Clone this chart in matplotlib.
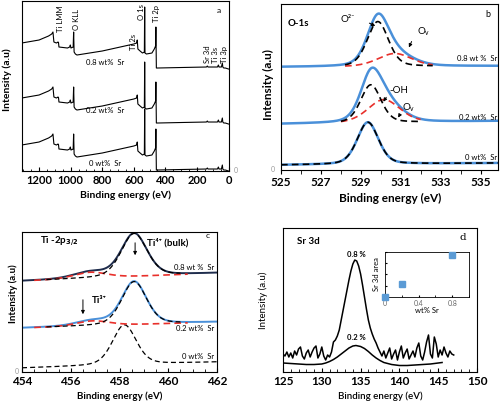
import numpy as np
import matplotlib
matplotlib.use('Agg')
import matplotlib.pyplot as plt
from matplotlib.ticker import MultipleLocator, FixedLocator, NullLocator

plt.rcParams['font.family'] = ['Lato', 'DejaVu Sans']

BLUE = '#4a90d9'
RED = '#e8302b'
NAVY = '#1f2d4d'

# ---- (a) survey spectra: outline of one trace, shifted for each sample ----
survey_be = [1310, 1200, 1140, 1120, 1112, 1106, 1090, 1080, 1077, 1074, 1020, 1006, 1002, 998,
             984, 981, 978, 970, 960, 800, 600, 582, 578, 574, 560, 545, 533, 531, 529, 520,
             485, 470, 462, 460, 457, 450, 300, 140, 134, 130, 70, 64, 60, 45, 39, 36, 30, 20, 0]
survey_int = [128, 131, 135, 137, 139, 129, 128, 129, 128.5, 124, 123, 124, 126, 123,
              124, 139, 119, 117, 116, 120, 127, 128, 131, 122, 120, 118, 119, 164, 118, 117,
              118, 122, 125, 144, 103, 103, 103.5, 104, 105, 104, 104, 106, 104, 104, 108, 104, 103, 103, 102]
survey_offsets = [0, -55, -102]
survey_labels = ['0.8 wt%  Sr', '0.2 wt%  Sr', '0 wt%  Sr']
survey_label_y = [109, 61, 8]
peak_names = ['Ti LMM', 'O KLL', 'Ti 2s', 'O 1s', 'Ti 2p', 'Sr 3d', 'Ti 3s', 'Ti 3p']
peak_name_be = [1065, 965, 603, 548, 457, 133, 83, 25]
peak_name_y = [139, 141, 121, 151, 149, 108, 108, 108]

# ---- (b) O 1s fits: baseline (left, right), O2- and second component (centre, fwhm, height) ----
o1s_labels = ['0 wt%  Sr', '0.2 wt%  Sr', '0.8 wt %  Sr']
o1s_base_left = [5, 46, 103]
o1s_base_right = [7, 49, 104]
o1s_main = [(529.35, 1.25, 42), (529.5, 1.2, 38), (529.85, 1.25, 45)]
o1s_second = [None, (530.15, 1.9, 23), (530.7, 2.0, 13)]
o1s_comp_range = [(525, 536), (528.0, 532.0), (528.2, 532.6)]
o1s_label_y = [13, 53, 112]

# ---- (c) Ti 2p3/2 fits ----
ti_labels = ['0 wt%  Sr', '0.2 wt%  Sr', '0.8 wt %  Sr']
ti_base_left = [4, 44, 91]
ti_base_right = [10, 50, 99]
ti4_peak = [(458.2, 1.15, 40), (458.6, 1.2, 43), (458.6, 1.25, 43)]
ti3_peak = [None, (456.9, 1.6, 5), (456.8, 1.6, 6)]
ti_label_y = [16, 44, 105]

# ---- (d) Sr 3d ----
sr08_be = np.arange(125, 147.01, 0.25)
sr08_int = [18, 16, 20, 15, 19, 14, 21, 17, 23, 25, 16, 13, 19, 22, 15, 20, 24, 26, 14, 18,
            25, 16, 12, 17, 15, 20, 30, 32, 36, 42, 52, 62, 72, 82, 92, 101, 108, 112, 111, 106,
            98, 87, 75, 63, 52, 44, 38, 33, 29, 24, 20, 16, 21, 14, 19, 24, 13, 18, 22, 12,
            20, 26, 14, 19, 23, 13, 17, 21, 15, 24, 29, 16, 12, 20, 30, 37, 18, 14, 35, 28,
            15, 22, 17, 25, 19, 15, 21, 18, 17]
sr02_be = [125, 126, 127, 128, 129, 130, 130.5, 131, 131.5, 132, 132.5, 133, 133.5, 134, 134.4,
           135, 135.5, 136, 136.5, 137, 137.5, 138, 139, 140, 141, 142, 143, 144, 145, 145.5]
sr02_int = [9, 8.5, 8, 7.5, 7.5, 8, 9, 10.5, 12.5, 15, 18, 21, 24, 26, 26.5,
            25.5, 23.5, 20.5, 17, 14, 11.5, 9.5, 7.5, 6.5, 6.5, 7, 7.5, 8, 9, 9.5]
inset_wt = [0, 0.2, 0.8]
inset_area = [0, 0.28, 0.94]
inset_ticks = [0, 0.4, 0.8]
inset_ticklabels = ['0', '0.4', '0.8']


def gl(x, c, fwhm, h, eta=0.3):
    g = np.exp(-4 * np.log(2) * ((x - c) / fwhm) ** 2)
    l = 1 / (1 + 4 * ((x - c) / fwhm) ** 2)
    return h * ((1 - eta) * g + eta * l)


def bold_ticks(ax):
    for t in ax.get_xticklabels():
        t.set_fontweight('bold')


fig = plt.figure(figsize=(5, 4.04), dpi=100)
arrow = dict(arrowstyle='-|>', color='k', lw=0.7, mutation_scale=5)
dash = (0, (4, 2.5))

# ================= panel a =================
ax = fig.add_axes([0.0434, 0.5767, 0.4136, 0.4208])
for off, lab, ly in zip(survey_offsets, survey_labels, survey_label_y):
    ax.plot(survey_be, np.array(survey_int) + off, color='k', lw=0.8)
    ax.text(781, ly, lab, fontsize=5.5, ha='center', va='center')
for name, be, y in zip(peak_names, peak_name_be, peak_name_y):
    ax.text(be, y, name, rotation=90, fontsize=5.5, ha='center', va='bottom')
ax.text(63, 161, 'a', fontsize=6, ha='center', va='center')
ax.set_xlim(1310, 0)
ax.set_ylim(0, 170)
ax.xaxis.set_major_locator(MultipleLocator(200))
ax.xaxis.set_minor_locator(MultipleLocator(50))
ax.yaxis.set_major_locator(NullLocator())
ax.tick_params(axis='x', which='both', direction='in', labelsize=8, pad=3)
ax.tick_params(axis='x', which='major', length=3)
ax.tick_params(axis='x', which='minor', length=1.5)
bold_ticks(ax)
fig.text(125 / 500, 1 - 195 / 404, 'Binding energy (eV)', fontsize=7.5, fontweight='bold',
         ha='center', va='center')
fig.text(7 / 500, 1 - 80 / 404, 'Intensity (a.u)', fontsize=7.5, fontweight='bold',
         rotation=90, ha='center', va='center')
fig.text(236 / 500, 1 - 171 / 404, '0', fontsize=5, color='#999999', ha='center', va='center')

# ================= panel b =================
ax = fig.add_axes([0.562, 0.5792, 0.434, 0.4109])
x = np.linspace(525, 536, 800)
for i in range(3):
    base = np.interp(x, [525, 536], [o1s_base_left[i], o1s_base_right[i]])
    main = gl(x, *o1s_main[i])
    second = gl(x, *o1s_second[i]) if o1s_second[i] else 0 * x
    ax.plot(x, base + main + second, color=BLUE, lw=1.8)
    lo, hi = o1s_comp_range[i]
    m = (x >= lo) & (x <= hi)
    if o1s_second[i]:
        ax.plot(x[m], (base + second)[m], color=RED, lw=1.2, ls=dash)
    ax.plot(x[m], (base + main)[m], color='k', lw=1.2, ls=dash)
    ax.text(535.85, o1s_label_y[i], o1s_labels[i], fontsize=5.5, ha='right', va='center')
ax.text(525.35, 147, 'O-1s', fontsize=7, fontweight='bold', ha='left', va='center')
ax.text(535.35, 155, 'b', fontsize=6.5, ha='center', va='center')
ax.text(528.0, 150, 'O²⁻', fontsize=7, ha='left', va='center')
ax.annotate('', xy=(529.85, 143), xytext=(529.3, 148), arrowprops=arrow)
ax.text(531.8, 138, 'O$_\\mathregular{v}$', fontsize=7, ha='left', va='center')
ax.annotate('', xy=(531.35, 120), xytext=(531.6, 131), arrowprops=arrow)
ax.text(530.45, 80, '-OH', fontsize=7, ha='left', va='center')
ax.annotate('', xy=(530.05, 66), xytext=(530.35, 75), arrowprops=arrow)
ax.text(531.05, 62, 'O$_\\mathregular{v}$', fontsize=7, ha='left', va='center')
ax.annotate('', xy=(530.8, 50), xytext=(531.0, 57), arrowprops=arrow)
ax.set_xlim(525, 535.87)
ax.set_ylim(0, 166)
ax.xaxis.set_major_locator(FixedLocator([525, 527, 529, 531, 533, 535]))
ax.xaxis.set_minor_locator(MultipleLocator(1))
ax.yaxis.set_major_locator(NullLocator())
ax.tick_params(axis='x', which='both', direction='out', labelsize=8.5, pad=2)
ax.tick_params(axis='x', which='major', length=3)
ax.tick_params(axis='x', which='minor', length=3)
bold_ticks(ax)
fig.text(390 / 500, 1 - 198 / 404, 'Binding energy (eV)', fontsize=8.5, fontweight='bold',
         ha='center', va='center')
fig.text(268 / 500, 1 - 85 / 404, 'Intensity (a.u)', fontsize=8.5, fontweight='bold',
         rotation=90, ha='center', va='center')
fig.text(273 / 500, 1 - 170 / 404, '0', fontsize=5, color='#999999', ha='center', va='center')

# ================= panel c =================
ax = fig.add_axes([0.044, 0.0792, 0.39, 0.3465])
x = np.linspace(454, 462, 800)
line_cols = [None, BLUE, NAVY]
for i in range(3):
    base = np.interp(x, [454, 462], [ti_base_left[i], ti_base_right[i]])
    ti4 = gl(x, *ti4_peak[i])
    ti3 = gl(x, *ti3_peak[i]) if ti3_peak[i] else 0 * x
    if ti3_peak[i]:
        ax.plot(x, base + ti4 + ti3, color=line_cols[i], lw=1.4)
        m = (x >= 454.5) & (x <= 460.8)
        ax.plot(x[m], (base + ti3)[m], color=RED, lw=1.2, ls=dash)
        m = (x >= 455.0) & (x <= 460.5)
        ax.plot(x[m], (base + ti4)[m], color='k', lw=0.9, ls=dash)
    else:
        ax.plot(x, base + ti4, color='k', lw=0.9, ls=dash)
    ax.text(461.9, ti_label_y[i], ti_labels[i], fontsize=5.5, ha='right', va='center')
ax.text(454.74, 130, 'Ti -2p$_\\mathbf{3/2}$', fontsize=7, fontweight='bold', ha='left', va='center')
ax.text(461.63, 137, 'c', fontsize=6, ha='center', va='center')
ax.text(459.13, 129, 'Ti⁴⁺ (bulk)', fontsize=7, fontweight='bold', ha='left', va='center')
ax.annotate('', xy=(458.64, 114), xytext=(458.64, 132), arrowprops=arrow)
ax.text(456.87, 72, 'Ti³⁺', fontsize=7, fontweight='bold', ha='left', va='center')
ax.annotate('', xy=(456.5, 55), xytext=(456.5, 75), arrowprops=arrow)
ax.set_xlim(454, 462)
ax.set_ylim(0, 140)
ax.xaxis.set_major_locator(MultipleLocator(2))
ax.xaxis.set_minor_locator(MultipleLocator(0.5))
ax.yaxis.set_major_locator(NullLocator())
ax.tick_params(axis='x', which='both', direction='in', labelsize=8.5, pad=3)
ax.tick_params(axis='x', which='major', length=3)
ax.tick_params(axis='x', which='minor', length=2)
bold_ticks(ax)
fig.text(120 / 500, 1 - 396 / 404, 'Binding energy (eV)', fontsize=7, fontweight='bold',
         ha='center', va='center')
fig.text(13 / 500, 1 - 294 / 404, 'Intensity (a.u)', fontsize=7, fontweight='bold',
         rotation=90, ha='center', va='center')
fig.text(17 / 500, 1 - 371 / 404, '0', fontsize=5, color='#999999', ha='center', va='center')

# ================= panel d =================
ax = fig.add_axes([0.566, 0.0792, 0.388, 0.3564])
ax.plot(sr08_be, sr08_int, color='k', lw=1.1)
ax.plot(sr02_be, sr02_int, color='k', lw=1.1)
ax.text(126.8, 131, 'Sr 3d', fontsize=7, fontweight='bold', ha='left', va='center')
ax.text(148.2, 135, 'd', fontsize=7.5, family='DejaVu Serif', ha='center', va='center')
ax.text(134.4, 118, '0.8 %', fontsize=5.5, fontweight='bold', ha='center', va='center')
ax.text(134.4, 35, '0.2 %', fontsize=5.5, fontweight='bold', ha='center', va='center')
ax.set_xlim(125, 150)
ax.set_ylim(0, 144)
ax.xaxis.set_major_locator(MultipleLocator(5))
ax.xaxis.set_minor_locator(MultipleLocator(1))
ax.yaxis.set_major_locator(NullLocator())
ax.tick_params(axis='x', which='both', direction='in', labelsize=8.5, pad=3)
ax.tick_params(axis='x', which='major', length=3)
ax.tick_params(axis='x', which='minor', length=2)
bold_ticks(ax)
fig.text(380 / 500, 1 - 396 / 404, 'Binding energy (eV)', fontsize=7, fontweight='semibold',
         ha='center', va='center')
fig.text(263 / 500, 1 - 300 / 404, 'Intensity (a.u)', fontsize=7,
         rotation=90, ha='center', va='center')

ins = fig.add_axes([0.77, 0.2649, 0.168, 0.1114])
ins.plot(inset_wt, inset_area, ls='none', marker='s', markersize=4, color='#5b9bd5', clip_on=False,
         zorder=3)
ins.set_xlim(0, 1.0)
ins.set_ylim(0, 1.0)
ins.set_xticks(inset_ticks)
ins.set_xticklabels(inset_ticklabels)
ins.xaxis.set_minor_locator(FixedLocator([0.2, 0.6, 1.0]))
ins.yaxis.set_major_locator(MultipleLocator(0.25))
ins.set_yticklabels([])
ins.tick_params(axis='both', which='both', direction='in', length=1.5, labelsize=5,
                labelcolor='#666666', pad=2.5)
ins.set_xlabel('wt% Sr', fontsize=5.5, labelpad=0)
ins.set_ylabel('Sr 3d area', fontsize=5.5, labelpad=1)
for s in ins.spines.values():
    s.set_linewidth(0.6)

fig.savefig('out.png', dpi=100)
